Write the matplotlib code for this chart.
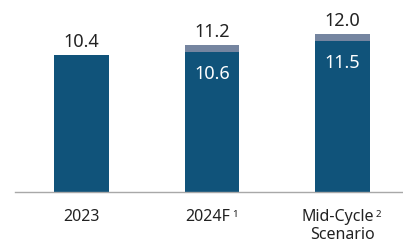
import matplotlib
matplotlib.use("Agg")
import matplotlib.pyplot as plt

categories = ["2023", "2024F", "Mid-Cycle\nScenario"]
superscripts = ["", "1", "2"]
base_values = [10.4, 10.6, 11.5]
total_values = [10.4, 11.2, 12.0]
inner_labels = ["", "10.6", "11.5"]
top_labels = ["10.4", "11.2", "12.0"]

dark = "#10537a"
light = "#7585a0"
text_color = "#222222"
font = "Noto Sans"

fig = plt.figure(figsize=(4.03, 2.42), dpi=100)
ax = fig.add_axes([15/403, (242-191.7)/242, 388/403, 191.7/242])
x = list(range(len(categories)))
width = 0.42
extra = [t - b for t, b in zip(total_values, base_values)]
ax.bar(x, base_values, width=width, color=dark, zorder=2)
ax.bar(x, extra, bottom=base_values, width=width, color=light, zorder=2)

ax.set_xlim(-0.51, 2.464)
ax.set_ylim(0, 14.59)
for s in ["top", "right", "left"]:
    ax.spines[s].set_visible(False)
ax.spines["bottom"].set_color("#a8a8a8")
ax.spines["bottom"].set_linewidth(1.0)
ax.set_yticks([])
ax.set_xticks([])

for i in x:
    ax.annotate(top_labels[i], (i, total_values[i]), xytext=(0, 4), textcoords="offset pixels",
                ha="center", va="bottom", fontsize=13, color=text_color, family=font)
    if inner_labels[i]:
        ax.annotate(inner_labels[i], (i, base_values[i]), xytext=(0, -22), textcoords="offset pixels",
                    ha="center", va="center", fontsize=13, color="white", family=font)

# category labels
label_offsets = [0, -4, -5]
for i in x:
    lines = categories[i].split("\n")
    for j, line in enumerate(lines):
        ax.annotate(line, (i, 0), xytext=(label_offsets[i] if j == 0 else 0, -25 - 18 * j),
                    textcoords="offset pixels", ha="center", va="center",
                    fontsize=11.5, color=text_color, family=font)
    if superscripts[i]:
        t = ax.annotate(lines[0], (i, 0), xytext=(label_offsets[i], -25), textcoords="offset pixels",
                        ha="center", va="center", fontsize=11.5, color="none", family=font)
        fig.canvas.draw()
        bb = t.get_window_extent()
        fig.text((bb.x1 + 2) / fig.bbox.width, (bb.y1 - 1) / fig.bbox.height, superscripts[i],
                 ha="left", va="top", fontsize=7, color=text_color, family=font)

fig.savefig("out.png", dpi=100)
